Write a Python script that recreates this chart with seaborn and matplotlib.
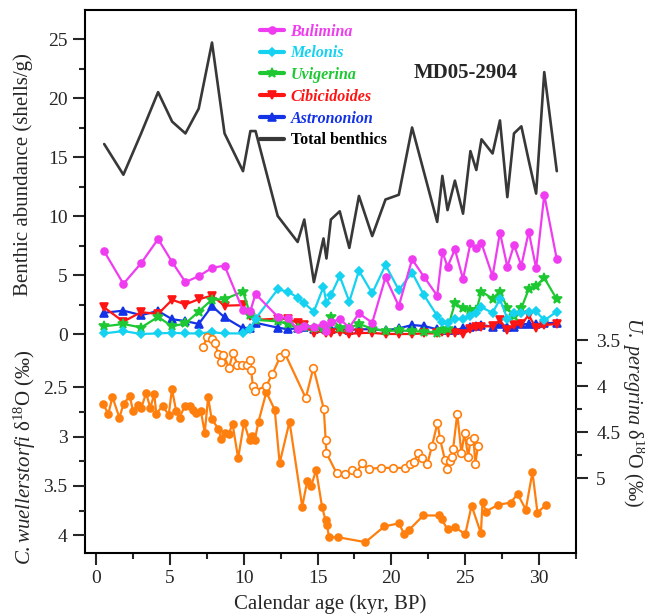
"""
Benthic foraminifera abundance and benthic d18O, core MD05-2904
"""
import numpy as np
import matplotlib
matplotlib.use("Agg")
import matplotlib.pyplot as plt
from matplotlib.ticker import FixedLocator, MultipleLocator, FuncFormatter
from matplotlib.font_manager import FontProperties
import seaborn as sns

nan = np.nan

# ------------------------------------------------------------------
# data
# ------------------------------------------------------------------
# sample ages of the abundance counts (kyr BP)
age_kyr = [0.55, 1.85, 3.05, 4.2, 5.15, 6.05, 6.95, 7.85, 8.7, 9.95,
           10.45, 10.8, 12.3, 13.0, 13.65, 14.1, 14.75, 15.4, 15.6, 15.9,
           16.5, 17.15, 17.8, 18.7, 19.6, 20.5, 21.4, 22.2, 23.1, 23.45,
           23.8, 24.3, 24.85, 25.35, 25.75, 26.1, 26.85, 27.35, 27.85, 28.3,
           28.8, 29.3, 29.8, 30.35, 31.2]

total_benthics = [16.1, 13.5, 17.0, 20.5, 18.0, 17.0, 19.1, 24.7, 17.0, 13.8,
                  17.2, 17.2, 10.0, nan, 7.8, 9.7, 4.4, 8.1, 6.4, 9.7,
                  10.4, 7.3, 11.7, 8.3, 11.4, 11.8, 17.5, nan, 9.5, 13.4,
                  10.5, 13.0, 10.2, 15.5, 13.9, 16.5, 15.3, 18.1, 11.6, 17.0,
                  17.6, 14.7, 11.9, 22.2, 13.8]

bulimina = [7.0, 4.25, 6.0, 8.05, 6.1, 4.4, 4.9, 5.6, 5.8, 2.0,
            1.97, 3.39, 1.47, 1.33, 0.39, 0.68, 0.6, 0.85, 0.28, 0.99,
            1.27, 0.55, 1.75, 0.96, 4.8, 2.37, 6.33, 4.86, 3.25, 6.98,
            5.7, 7.17, 4.66, 7.68, 7.26, 7.68, 4.9, 8.6, 5.7, 7.54,
            5.79, 8.67, 5.57, 11.8, 6.33]

melonis = [0.05, 0.25, 0.0, 0.05, 0.1, 0.05, 0.05, 0.15, 0.05, 0.05,
           0.45, 1.3, 3.78, 3.59, 3.08, 2.6, 1.9, 4.0, 2.6, 3.3,
           4.9, 2.75, 5.37, 3.45, 5.85, 3.73, 5.2, 3.3, 1.55, 1.0,
           0.97, 1.25, 1.3, 1.5, 1.75, 2.26, 1.8, 2.95, 1.3, 1.8,
           1.8, 1.9, 1.94, 1.15, 1.9]

uvigerina = [0.65, 0.85, 0.55, 1.45, 0.65, 0.9, 1.9, 2.92, 2.95, 3.6,
             1.6, 1.2, 1.07, 0.85, 0.5, 0.6, 0.5, 0.5, 0.4, 1.45,
             0.5, 0.5, 0.85, 0.45, 0.25, 0.3, 0.25, 0.2, 0.1, 0.3,
             0.45, 2.6, 2.2, 2.0, 2.0, 3.6, 3.0, 3.6, 2.2, 1.5,
             2.2, 3.8, 4.1, 4.75, 2.95]

cibicidoides = [2.25, 1.05, 1.85, 1.7, 2.9, 2.5, 2.95, 3.25, 2.4, 2.45,
                1.5, 1.2, 1.3, 1.25, 0.95, 0.75, 0.06, 0.3, 0.1, 0.1,
                0.2, 0.0, 0.08, 0.1, 0.0, 0.0, 0.0, 0.05, 0.05, 0.2,
                0.12, 0.12, 0.0, 0.4, 0.56, 0.62, 0.68, 1.15, 0.34, 0.76,
                0.85, 1.6, 0.48, 0.76, 0.85]

astrononion = [1.8, 1.98, 1.6, 1.95, 1.25, 1.1, 0.85, 2.37, 1.41, 0.48,
               0.55, 0.95, 0.54, 0.4, 0.5, 0.57, 0.4, 0.54, 0.45, 0.45,
               0.5, 0.35, 0.4, 0.4, 0.3, 0.48, 0.76, 0.68, 0.4, 0.3,
               0.3, 0.35, 0.48, 0.62, 0.65, 0.76, 0.62, 0.85, 0.62, 0.57,
               0.82, 0.85, 0.85, 0.9, 0.96]

# C. wuellerstorfi d18O (left axis, filled circles)
cw_age = [0.47, 0.83, 1.11, 1.58, 1.86, 2.28, 2.5, 2.83, 3.06, 3.39,
          3.67, 3.94, 4.08, 4.5, 4.92, 5.14, 5.42, 5.65, 6.01, 6.35,
          6.58, 6.8, 7.09, 7.36, 7.59, 7.82, 8.27, 8.49, 8.72, 9.0,
          9.24, 9.62, 10.02, 10.4, 10.59, 10.74, 11.0, 11.53, 12.1, 12.43,
          13.1, 13.96, 14.3, 14.57, 14.9, 15.3, 15.54, 15.65, 15.77, 16.37,
          18.24, 19.53, 20.5, 20.88, 21.17, 22.16, 23.2, 23.4, 23.8, 24.32,
          25.0, 25.43, 26.06, 26.17, 26.4, 27.25, 28.09, 28.54, 29.1, 29.55,
          29.89, 30.5]
cw_d18o = [2.67, 2.77, 2.60, 2.81, 2.67, 2.59, 2.74, 2.68, 2.71, 2.56,
           2.71, 2.57, 2.77, 2.69, 2.78, 2.52, 2.74, 2.81, 2.69, 2.69,
           2.73, 2.76, 2.74, 2.96, 2.60, 2.82, 2.92, 3.03, 2.96, 2.97,
           2.87, 3.22, 2.86, 3.04, 2.99, 3.04, 2.85, 2.55, 2.73, 3.27,
           2.85, 3.71, 3.45, 3.50, 3.34, 3.71, 3.85, 3.90, 4.02, 4.02,
           4.07, 3.91, 3.88, 3.99, 3.95, 3.80, 3.80, 3.84, 3.94, 3.92,
           3.99, 3.70, 3.98, 3.66, 3.76, 3.69, 3.67, 3.58, 3.74, 3.36,
           3.77, 3.69]

# U. peregrina d18O (right axis, open circles)
up_age = [7.22, 7.52, 7.82, 8.04, 8.27, 8.49, 8.62, 9.0, 9.28, 9.57,
          9.86, 10.2, 10.4, 10.5, 10.62, 10.75, 11.53, 11.93, 12.45, 12.77,
          14.2, 14.72, 15.42, 15.55, 15.6, 16.3, 16.87, 17.34, 17.64, 17.99,
          18.45, 19.3, 20.1, 20.9, 21.26, 21.53, 21.78, 22.06, 22.43, 22.75,
          23.12, 23.3, 23.62, 23.78, 23.95, 24.1, 24.18, 24.46, 24.74, 24.95,
          25.2, 25.34, 25.56, 25.68, 25.86]
up_d18o = [3.58, 3.47, 3.49, 3.53, 3.65, 3.74, 3.66, 3.80, 3.64, 3.77,
           3.77, 3.77, 3.72, 3.83, 4.00, 4.05, 4.00, 3.87, 3.69, 3.64,
           4.13, 3.80, 4.25, 4.59, 4.73, 4.95, 4.96, 4.91, 4.95, 4.84,
           4.90, 4.89, 4.89, 4.89, 4.85, 4.83, 4.73, 4.78, 4.85, 4.65,
           4.40, 4.58, 4.80, 4.90, 4.81, 4.77, 4.68, 4.30, 4.73, 4.51,
           4.77, 4.60, 4.57, 4.85, 4.65]

species = ["Bulimina", "Melonis", "Uvigerina", "Cibicidoides", "Astrononion"]
species_values = [bulimina, melonis, uvigerina, cibicidoides, astrononion]
species_colors = ["#f03cf0", "#14d2f0", "#1ec832", "#ff1414", "#1432e6"]
species_markers = ["o", "D", "*", "v", "^"]
species_msize = [5, 4, 7.5, 5.5, 5.5]
orange = "#ff7f0e"

# ------------------------------------------------------------------
# style
# ------------------------------------------------------------------
sns.set_style("ticks")
plt.rcParams["font.family"] = ["Liberation Serif", "DejaVu Serif"]
plt.rcParams["mathtext.fontset"] = "custom"
plt.rcParams["mathtext.rm"] = "Liberation Serif"
plt.rcParams["mathtext.it"] = "Liberation Serif:italic"
plt.rcParams["mathtext.bf"] = "Liberation Serif:bold"
plt.rcParams["axes.linewidth"] = 1.5

W, H = 645, 615
fig = plt.figure(figsize=(W / 100, H / 100), dpi=100)
ax = fig.add_axes([85 / W, 1 - 553 / H, 491 / W, 543 / H])


def draw(axis, x, y, color, marker=None, ms=5, lw=1.6, mfc=None, label=None):
    x = np.asarray(x, dtype=float)
    y = np.asarray(y, dtype=float)
    keep = ~np.isnan(y)
    sns.lineplot(x=x[keep], y=y[keep], ax=axis, color=color, marker=marker,
                 markersize=ms, linewidth=lw,
                 markerfacecolor=mfc if mfc else color,
                 markeredgecolor=color, markeredgewidth=1.2,
                 sort=False, estimator=None, legend=False, label=label)
    return axis.lines[-1]


# ------------------------------------------------------------------
# upper part: abundances
# ------------------------------------------------------------------
h_total = draw(ax, age_kyr, total_benthics, "#383838", lw=1.9, label="Total benthics")
handles = []
for name, vals, c, m, s in zip(species[::-1], species_values[::-1], species_colors[::-1],
                               species_markers[::-1], species_msize[::-1]):
    handles.append(draw(ax, age_kyr, vals, c, marker=m, ms=s, label=name))
handles = handles[::-1] + [h_total]

ax.set_xlim(-0.75, 32.5)
ax.set_ylim(-18.56, 27.46)
ax.xaxis.set_major_locator(MultipleLocator(5))
ax.xaxis.set_minor_locator(MultipleLocator(2.5))
ax.yaxis.set_major_locator(FixedLocator([0, 5, 10, 15, 20, 25]))
ax.yaxis.set_minor_locator(FixedLocator([2.5, 7.5, 12.5, 17.5, 22.5]))
ax.tick_params(which="both", direction="out", width=1.5, labelsize=14, pad=4,
               top=False, right=False)
ax.tick_params(which="major", length=8.5)
ax.tick_params(which="minor", length=4.5)
for s in ax.spines.values():
    s.set_linewidth(1.5)
    s.set_color("black")
ax.set_xlabel("Calendar age (kyr, BP)", fontsize=15, labelpad=5)
ax.set_ylabel("")

fmt = FuncFormatter(lambda v, _: f"{v:g}")

# ------------------------------------------------------------------
# lower part: d18O (two extra y scales sharing the same frame)
# ------------------------------------------------------------------
ax_cw = ax.twinx()
ax_cw.yaxis.tick_left()
draw(ax_cw, cw_age, cw_d18o, orange, marker="o", ms=5, lw=1.6)
ax_cw.set_ylim(4.18, -1.32)
ax_cw.yaxis.set_major_locator(FixedLocator([2.5, 3, 3.5, 4]))
ax_cw.yaxis.set_minor_locator(FixedLocator([2.75, 3.25, 3.75]))
ax_cw.yaxis.set_major_formatter(fmt)

ax_up = ax.twinx()
draw(ax_up, up_age, up_d18o, orange, marker="o", ms=5.5, lw=1.6, mfc="white")
ax_up.set_ylim(5.815, -0.087)
ax_up.yaxis.set_major_locator(FixedLocator([3.5, 4, 4.5, 5]))
ax_up.yaxis.set_minor_locator(FixedLocator([3.75, 4.25, 4.75]))
ax_up.yaxis.set_major_formatter(fmt)

for a in (ax_cw, ax_up):
    a.set_ylabel("")
    a.set_xlim(-0.75, 32.5)
    a.tick_params(which="both", direction="out", width=1.5, labelsize=14, pad=4)
    a.tick_params(which="major", length=8.5)
    a.tick_params(which="minor", length=4.5)
    for s in a.spines.values():
        s.set_visible(False)
ax_up.tick_params(pad=6)

# ------------------------------------------------------------------
# labels, legend, core name
# ------------------------------------------------------------------
fig.text(23 / W, 1 - 175 / H, "Benthic abundance (shells/g)", rotation=90,
         ha="center", va="center", fontsize=15)
fig.text(25 / W, 1 - 457 / H, r"$\mathit{C.wuellerstorfi}$ δ$^{18}$O (‰)",
         rotation=90, ha="center", va="center", fontsize=15)
fig.text(633 / W, 1 - 412 / H, r"$\mathit{U.\ peregrina}$ δ$^{18}$O (‰)",
         rotation=270, ha="center", va="center", fontsize=14.5)
fig.text(466 / W, 1 - 73 / H, "MD05-2904", ha="center", va="center",
         fontsize=15, fontweight="bold")

leg = ax.legend(handles, species + ["Total benthics"], loc="upper left",
                bbox_to_anchor=(0.357, 0.975), frameon=False, numpoints=1,
                handlelength=1.5, handletextpad=0.4, labelspacing=0.36,
                borderpad=0, borderaxespad=0,
                prop=FontProperties(family="Liberation Serif", weight="bold",
                                    style="italic", size=11.5))
for t, c in zip(leg.get_texts(), species_colors + ["black"]):
    t.set_color(c)
leg.get_texts()[-1].set_fontstyle("normal")
for lh in leg.legend_handles:
    lh.set_linewidth(3)

fig.savefig("out.png", dpi=100)
